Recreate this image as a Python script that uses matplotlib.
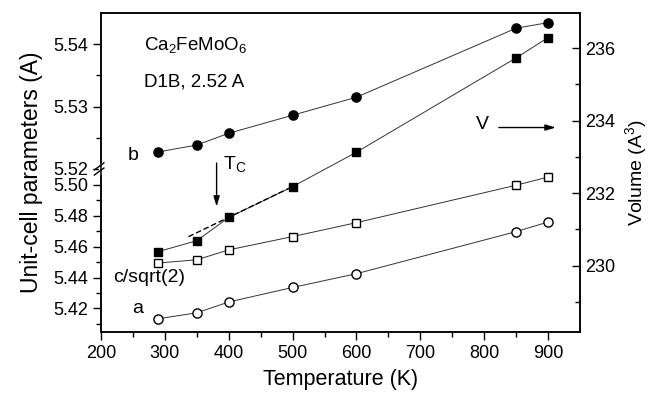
import numpy as np
import matplotlib
matplotlib.use("Agg")
import matplotlib.pyplot as plt
from matplotlib.ticker import FixedLocator, FormatStrFormatter

plt.rcParams["font.family"] = "Liberation Sans"
plt.rcParams["mathtext.fontset"] = "custom"
plt.rcParams["mathtext.rm"] = "Liberation Sans"
plt.rcParams["mathtext.it"] = "Liberation Sans:italic"

# ==========================================
# DATA
# ==========================================
temps = [290, 350, 400, 500, 600, 850, 900]
b_param = [5.5227, 5.5238, 5.5257, 5.5286, 5.5315, 5.5426, 5.5435]
c_param = [5.4494, 5.4515, 5.4579, 5.4665, 5.4755, 5.4997, 5.5050]
a_param = [5.4134, 5.4172, 5.4242, 5.4336, 5.4425, 5.4697, 5.4759]
volume = [230.39, 230.69, 231.33, 232.18, 233.13, 235.73, 236.29]

# dashed high-T extrapolation of the volume around Tc
fit_T = [337, 495]
fit_V = [230.80, 232.14]

left_major = [5.42, 5.44, 5.46, 5.48, 5.50, 5.52, 5.53, 5.54]
left_minor = [5.41, 5.43, 5.45, 5.47, 5.49, 5.525, 5.535]
right_major = [230, 232, 234, 236]
right_minor = [229, 231, 233, 235]


# broken left axis: 5.405-5.51 in the lower half, 5.52-5.545 in the upper half
def fwd(v):
    v = np.asarray(v, dtype=float)
    lo = (v - 5.405) / 0.105 * 0.51
    mid = 0.51 + (v - 5.51) / 0.01 * 0.002
    hi = 0.512 + (v - 5.52) / 0.025 * 0.488
    return np.where(v <= 5.51, lo, np.where(v >= 5.52, hi, mid))


def inv(y):
    y = np.asarray(y, dtype=float)
    lo = 5.405 + y / 0.51 * 0.105
    mid = 5.51 + (y - 0.51) / 0.002 * 0.01
    hi = 5.52 + (y - 0.512) / 0.488 * 0.025
    return np.where(y <= 0.51, lo, np.where(y >= 0.512, hi, mid))


fig = plt.figure(figsize=(6.48, 3.95), dpi=100)
ax = fig.add_axes([0.1559, 0.1603, 0.7391, 0.8060])
ax.set_yscale("function", functions=(fwd, inv))
ax2 = ax.twinx()

line_kw = dict(color="#333333", lw=0.7)

ax.plot(temps, b_param, marker="o", ms=6.6, mfc="k", mec="k", **line_kw)
ax.plot(temps, c_param, marker="s", ms=5.8, mfc="white", mec="k", mew=1.0, **line_kw)
ax.plot(temps, a_param, marker="o", ms=6.6, mfc="white", mec="k", mew=1.0, **line_kw)
ax2.plot(temps, volume, marker="s", ms=6.2, mfc="k", mec="k", **line_kw)
ax2.plot(fit_T, fit_V, color="k", lw=1.0, dashes=(4, 2))

ax.set_xlim(200, 950)
ax.set_ylim(5.405, 5.545)
ax2.set_ylim(228.18, 236.96)

ax.set_xticks(range(200, 1000, 100))
ax.xaxis.set_minor_locator(FixedLocator(range(250, 950, 100)))
ax.yaxis.set_major_locator(FixedLocator(left_major))
ax.yaxis.set_minor_locator(FixedLocator(left_minor))
ax.yaxis.set_major_formatter(FormatStrFormatter("%.2f"))
ax2.yaxis.set_major_locator(FixedLocator(right_major))
ax2.yaxis.set_minor_locator(FixedLocator(right_minor))

ax.tick_params(axis="both", which="major", direction="out", length=6, width=1, labelsize=13)
ax.tick_params(axis="both", which="minor", direction="out", length=3.5, width=1)
ax2.tick_params(axis="y", which="major", direction="in", length=6, width=1, labelsize=13)
ax2.tick_params(axis="y", which="minor", direction="in", length=3.5, width=1)
for a in (ax, ax2):
    for s in a.spines.values():
        s.set_linewidth(1.1)

ax.set_xlabel("Temperature (K)", fontsize=15.5, labelpad=5)
ax.set_ylabel("Unit-cell parameters (A)", fontsize=16.5, labelpad=7)
ax2.set_ylabel("Volume (A$^3$)", fontsize=14, labelpad=6)

# axis break marks on the left spine
ax.plot([0, 0], [0.498, 0.522], color="white", lw=3, transform=ax.transAxes,
        clip_on=False, zorder=5)
for dy in (0.0, 0.016):
    ax.plot([-0.014, 0.006], [0.492 + dy, 0.514 + dy], color="k", lw=1,
            transform=ax.transAxes, clip_on=False, zorder=6)

# labels inside the plot
ax2.text(268, 236.08, "Ca$_2$FeMoO$_6$", fontsize=13.5, ha="left", va="center")
ax2.text(268, 235.06, "D1B, 2.52 A", fontsize=13.5, ha="left", va="center")
ax2.text(250, 233.05, "b", fontsize=14, ha="center", va="center")
ax2.text(275, 229.67, "c/sqrt(2)", fontsize=14, ha="center", va="center")
ax2.text(258, 228.82, "a", fontsize=14, ha="center", va="center")
ax2.text(798, 233.88, "V", fontsize=14, ha="center", va="center")
ax2.text(391, 232.80, "T$_\\mathrm{C}$", fontsize=14, ha="left", va="center")

arrow = dict(arrowstyle="-|>,head_length=0.6,head_width=0.18", color="k", lw=1,
             shrinkA=0, shrinkB=0)
ax2.annotate("", xy=(381, 231.63), xytext=(381, 232.83), arrowprops=arrow)
ax2.annotate("", xy=(912, 233.81), xytext=(823, 233.81), arrowprops=arrow)

fig.savefig("out.png", dpi=100)
